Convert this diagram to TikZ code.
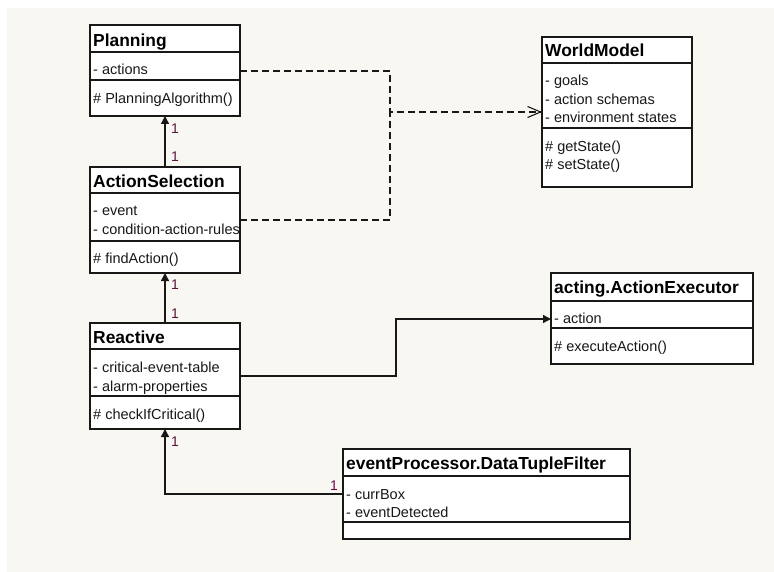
\documentclass[tikz,border=0pt]{standalone}
\usepackage{fontspec}
\setmainfont{Liberation Sans}
\usetikzlibrary{arrows.meta}
\definecolor{bg}{RGB}{249,247,241}
\definecolor{ink}{RGB}{24,24,24}
\definecolor{multc}{RGB}{96,16,64}
% one compartment of a class box: name, left, top, width, height
\newcommand\compart[5]{\node[comp, minimum width=#4pt, minimum height=#5pt] (#1) at (#2,#3) {};}
\begin{document}
\begin{tikzpicture}[x=1pt,y=-1pt,
  comp/.style={draw=ink, line width=1.3pt, fill=white, anchor=north west, inner sep=0pt, outer sep=0pt},
  ttl/.style={anchor=base west, inner sep=0pt, text=black, font=\fontsize{17.4}{20}\selectfont\bfseries},
  mem/.style={anchor=base west, inner sep=0pt, text=ink, font=\fontsize{14.5}{17}\selectfont},
  mult/.style={inner sep=0pt, text=multc, font=\fontsize{14}{16}\selectfont},
  assoc/.style={draw=ink, line width=1.4pt, -{Triangle[length=8pt,width=8pt]}},
  depend/.style={draw=ink, line width=1.1pt, dash pattern=on 7pt off 4pt},
  opentip/.style={-{Straight Barb[length=13pt,width=11pt]}}
]
\useasboundingbox (0,0) rectangle (774,572);
\fill[white] (0,0) rectangle (774,572);
\fill[bg] (7,8) rectangle (774,572);

% Planning
\compart{planT}{90}{25}{150}{27}
\compart{planA}{90}{52}{150}{28}
\compart{planM}{90}{80}{150}{36}
\node[ttl] (planName) at (93,47) {Planning};
\node[mem] (planA1) at (93,75) {- actions};
\node[mem] (planM1) at (93,104) {\# PlanningAlgorithm()};

% ActionSelection
\compart{actT}{90}{167}{150}{26}
\compart{actA}{90}{193}{150}{48}
\compart{actM}{90}{241}{150}{32}
\node[ttl] (actName) at (93,188) {ActionSelection};
\node[mem] (actA1) at (93,216) {- event};
\node[mem] (actA2) at (93,235) {- condition-action-rules};
\node[mem] (actM1) at (93,263) {\# findAction()};

% Reactive
\compart{reaT}{90}{323}{150}{26}
\compart{reaA}{90}{349}{150}{47}
\compart{reaM}{90}{396}{150}{33}
\node[ttl] (reaName) at (93,343) {Reactive};
\node[mem] (reaA1) at (93,372) {- critical-event-table};
\node[mem] (reaA2) at (93,391) {- alarm-properties};
\node[mem] (reaM1) at (93,419) {\# checkIfCritical()};

% WorldModel
\compart{wmT}{542}{37}{150}{26}
\compart{wmA}{542}{63}{150}{65}
\compart{wmM}{542}{128}{150}{59}
\node[ttl] (wmName) at (545,57) {WorldModel};
\node[mem] (wmA1) at (545,86) {- goals};
\node[mem] (wmA2) at (545,104.5) {- action schemas};
\node[mem] (wmA3) at (545,122.7) {- environment states};
\node[mem] (wmM1) at (545,151.7) {\# getState()};
\node[mem] (wmM2) at (545,169.5) {\# setState()};

% acting.ActionExecutor
\compart{exeT}{551}{273}{202}{28}
\compart{exeA}{551}{301}{202}{27}
\compart{exeM}{551}{328}{202}{36}
\node[ttl] (exeName) at (554,294) {acting.ActionExecutor};
\node[mem] (exeA1) at (554,323) {- action};
\node[mem] (exeM1) at (554,351) {\# executeAction()};

% eventProcessor.DataTupleFilter
\compart{dtfT}{343}{449}{287}{27}
\compart{dtfA}{343}{476}{287}{46}
\compart{dtfM}{343}{522}{287}{17}
\node[ttl] (dtfName) at (346,469) {eventProcessor.DataTupleFilter};
\node[mem] (dtfA1) at (346,499) {- currBox};
\node[mem] (dtfA2) at (346,517) {- eventDetected};

% associations
\draw[assoc] (actT.north) -- (planM.south);
\draw[assoc] (reaT.north) -- (actM.south);
\draw[assoc] ([yshift=5pt]dtfA.west) -| (reaM.south);
\draw[assoc] ([yshift=-3.5pt]reaA.east) -- ++(156,0) |- ([yshift=-4.5pt]exeA.west);

% dependencies on the world model
\coordinate (junction) at (390,112);
\draw[depend, opentip] ([yshift=-5pt]planA.east) -| (junction) -- ([yshift=-16.5pt]wmA.west);
\draw[depend] ([yshift=-3pt]actA.east) -| (junction);

% multiplicities
\node[mult] (m1) at (175,128.5) {1};
\node[mult] (m2) at (175,156.5) {1};
\node[mult] (m3) at (175,285) {1};
\node[mult] (m4) at (175,314) {1};
\node[mult] (m5) at (175,442) {1};
\node[mult] (m6) at (334,485.5) {1};
\end{tikzpicture}
\end{document}
